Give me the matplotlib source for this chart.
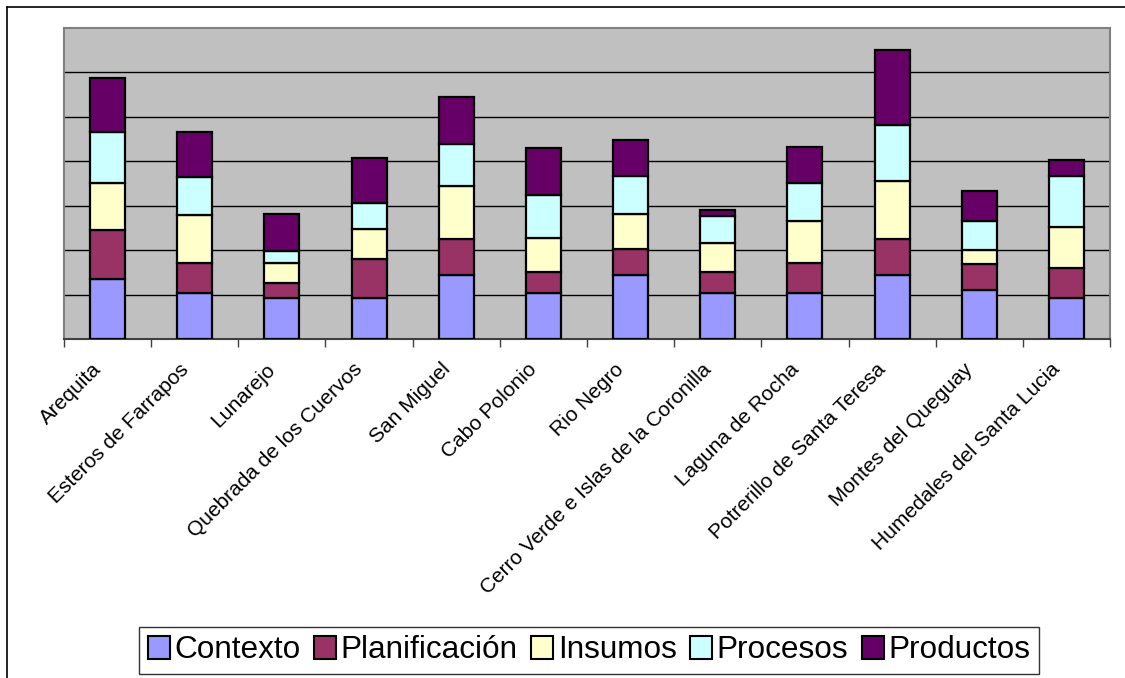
import numpy as np
import matplotlib.pyplot as plt
import matplotlib.transforms as mtransforms
from matplotlib.lines import Line2D

plt.rcParams['font.family'] = ['Liberation Sans', 'DejaVu Sans']

# datos (unidades = una linea de la grilla)
sitios = ["Arequita", "Esteros de Farrapos", "Lunarejo", "Quebrada de los Cuervos",
          "San Miguel", "Cabo Polonio", "Rio Negro", "Cerro Verde e Islas de la Coronilla",
          "Laguna de Rocha", "Potrerillo de Santa Teresa", "Montes del Queguay",
          "Humedales del Santa Lucia"]
contexto = [1.34, 1.04, 0.93, 0.93, 1.44, 1.04, 1.44, 1.04, 1.04, 1.44, 1.10, 0.93]
planificacion = [1.11, 0.68, 0.34, 0.88, 0.80, 0.46, 0.58, 0.46, 0.67, 0.80, 0.58, 0.66]
insumos = [1.06, 1.06, 0.44, 0.66, 1.20, 0.78, 0.79, 0.65, 0.94, 1.32, 0.32, 0.94]
procesos = [1.14, 0.86, 0.28, 0.60, 0.94, 0.95, 0.86, 0.61, 0.87, 1.26, 0.66, 1.15]
productos = [1.22, 1.01, 0.82, 1.01, 1.07, 1.07, 0.80, 0.15, 0.80, 1.68, 0.67, 0.35]

series = [("Contexto", contexto, "#9999FF"),
          ("Planificación", planificacion, "#993366"),
          ("Insumos", insumos, "#FFFFCC"),
          ("Procesos", procesos, "#CCFFFF"),
          ("Productos", productos, "#660066")]

fig = plt.figure(figsize=(11.25, 6.78), dpi=100)
ax = fig.add_axes([64 / 1125, 1 - 339 / 678, (1110 - 64) / 1125, (339 - 28) / 678])
ax.set_facecolor("#C0C0C0")

x = np.arange(len(sitios))
base = np.zeros(len(sitios))
for nombre, vals, color in series:
    ax.bar(x, vals, bottom=base, width=0.4, color=color, edgecolor="black",
           linewidth=1.6, label=nombre, zorder=3)
    base += np.array(vals)

ax.set_xlim(-0.5, len(sitios) - 0.5)
ax.set_ylim(0, 7)
ax.set_yticks(np.arange(1, 7))
ax.yaxis.grid(True, color="black", linewidth=1.0, zorder=0)
ax.tick_params(axis="y", length=0, labelleft=False)

# ticks entre categorias, etiquetas al centro
ax.set_xticks(np.arange(-0.5, len(sitios)), minor=False)
ax.set_xticklabels([])
ax.tick_params(axis="x", which="major", direction="out", length=6, width=1, color="#404040")
ax.set_xticks(x, minor=True)
ax.set_xticklabels(sitios, minor=True, rotation=45, ha="right", va="top",
                   rotation_mode="anchor", fontsize=15)
ax.tick_params(axis="x", which="minor", length=0, pad=15)
desplaza = mtransforms.ScaledTranslation(-16 / 100, 0, fig.dpi_scale_trans)
for lbl in ax.get_xticklabels(minor=True):
    lbl.set_transform(lbl.get_transform() + desplaza)

for s in ax.spines.values():
    s.set_color("#808080")
    s.set_linewidth(1.5)
ax.spines["bottom"].set_color("#404040")

leg = fig.legend(loc="center", bbox_to_anchor=(589 / 1125, 1 - 650.5 / 678), ncol=5,
                 fontsize=22.7, frameon=True, fancybox=False, edgecolor="black",
                 handlelength=0.7, handleheight=0.7, handletextpad=0.15,
                 columnspacing=0.42, borderpad=0.27, borderaxespad=0)
leg.get_frame().set_linewidth(1.0)
for h in leg.legend_handles:
    h.set_linewidth(1.5)

# marco exterior del grafico
fig.add_artist(Line2D([7 / 1125, 7 / 1125], [0, 1 - 7 / 678], color="black", linewidth=1.2))
fig.add_artist(Line2D([7 / 1125, 1], [1 - 7 / 678, 1 - 7 / 678], color="black", linewidth=1.2))

fig.savefig("out.png", dpi=100)
